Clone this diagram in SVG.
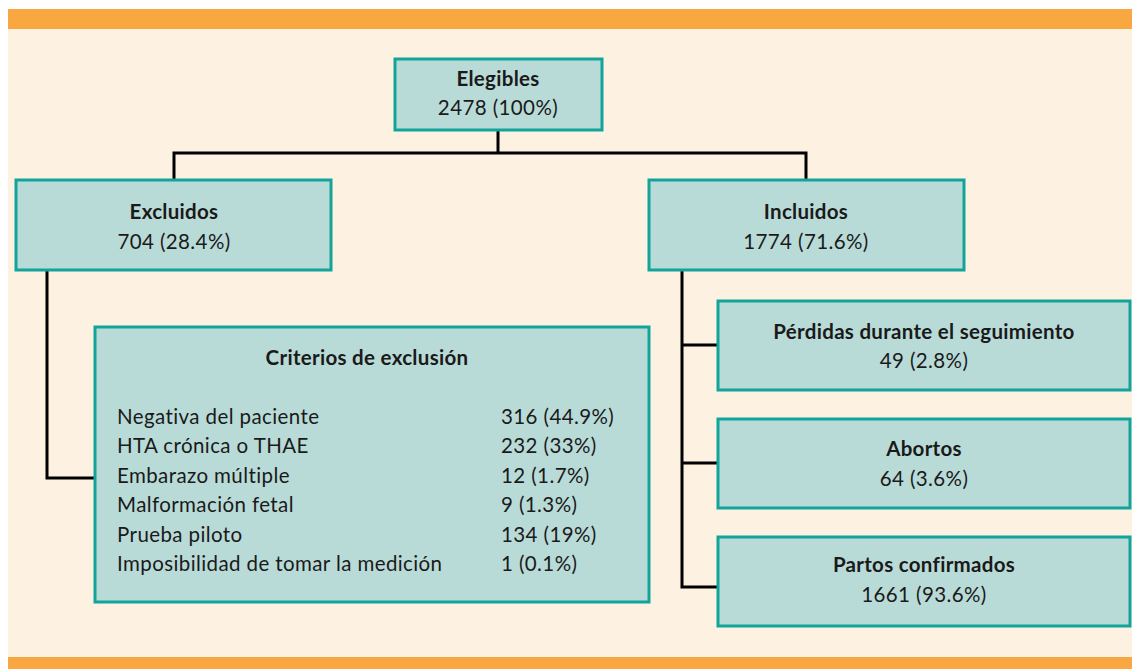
<svg xmlns="http://www.w3.org/2000/svg" width="1132" height="669" viewBox="0 0 1132 669">
<style>
.box{fill:#b9dbd8;stroke:#12a39a;stroke-width:3}
.t{font-family:Lato,"Open Sans","Liberation Sans",sans-serif;font-size:20.5px;fill:#1a1a1a;letter-spacing:0.4px}
.b{font-weight:bold;letter-spacing:0.3px}
.c{text-anchor:middle}
.ln{fill:none;stroke:#000;stroke-width:3}
</style>
<rect x="0" y="0" width="1132" height="669" fill="#ffffff"/>
<rect x="8" y="9" width="1124" height="660" fill="#fdf1e2"/>
<rect x="8" y="9" width="1124" height="20" fill="#f9a741"/>
<rect x="8" y="657" width="1124" height="12" fill="#f9a741"/>
<g id="connectors">
<path class="ln" d="M498,130V153M174,180V153H806V180"/>
<path class="ln" d="M47,270V478H96"/>
<path class="ln" d="M682,270V587H718M682,345H718M682,463H718"/>
</g>
<g id="elegibles">
<rect class="box" x="395" y="59" width="207" height="71"/>
<text class="t b c" x="498" y="86">Elegibles</text>
<text class="t c" x="498" y="115">2478 (100%)</text>
</g>
<g id="excluidos">
<rect class="box" x="16" y="180" width="315" height="90"/>
<text class="t b c" x="174" y="219">Excluidos</text>
<text class="t c" x="174" y="249">704 (28.4%)</text>
</g>
<g id="incluidos">
<rect class="box" x="649" y="180" width="315" height="90"/>
<text class="t b c" x="806" y="219">Incluidos</text>
<text class="t c" x="806" y="249">1774 (71.6%)</text>
</g>
<g id="criterios">
<rect class="box" x="95" y="327" width="554" height="275"/>
<text class="t b c" x="367" y="365">Criterios de exclusión</text>
<text class="t" x="117" y="424">Negativa del paciente</text>
<text class="t" x="117" y="453">HTA crónica o THAE</text>
<text class="t" x="117" y="483">Embarazo múltiple</text>
<text class="t" x="117" y="512">Malformación fetal</text>
<text class="t" x="117" y="542">Prueba piloto</text>
<text class="t" x="117" y="571">Imposibilidad de tomar la medición</text>
<text class="t" x="501" y="424">316 (44.9%)</text>
<text class="t" x="501" y="453">232 (33%)</text>
<text class="t" x="501" y="483">12 (1.7%)</text>
<text class="t" x="501" y="512">9 (1.3%)</text>
<text class="t" x="501" y="542">134 (19%)</text>
<text class="t" x="501" y="571">1 (0.1%)</text>
</g>
<g id="perdidas">
<rect class="box" x="718" y="301" width="412" height="89"/>
<text class="t b c" x="924" y="339">Pérdidas durante el seguimiento</text>
<text class="t c" x="924" y="368">49 (2.8%)</text>
</g>
<g id="abortos">
<rect class="box" x="718" y="419" width="412" height="89"/>
<text class="t b c" x="924" y="456">Abortos</text>
<text class="t c" x="924" y="486">64 (3.6%)</text>
</g>
<g id="partos">
<rect class="box" x="718" y="537" width="412" height="89"/>
<text class="t b c" x="924" y="572">Partos confirmados</text>
<text class="t c" x="924" y="602">1661 (93.6%)</text>
</g>
</svg>
